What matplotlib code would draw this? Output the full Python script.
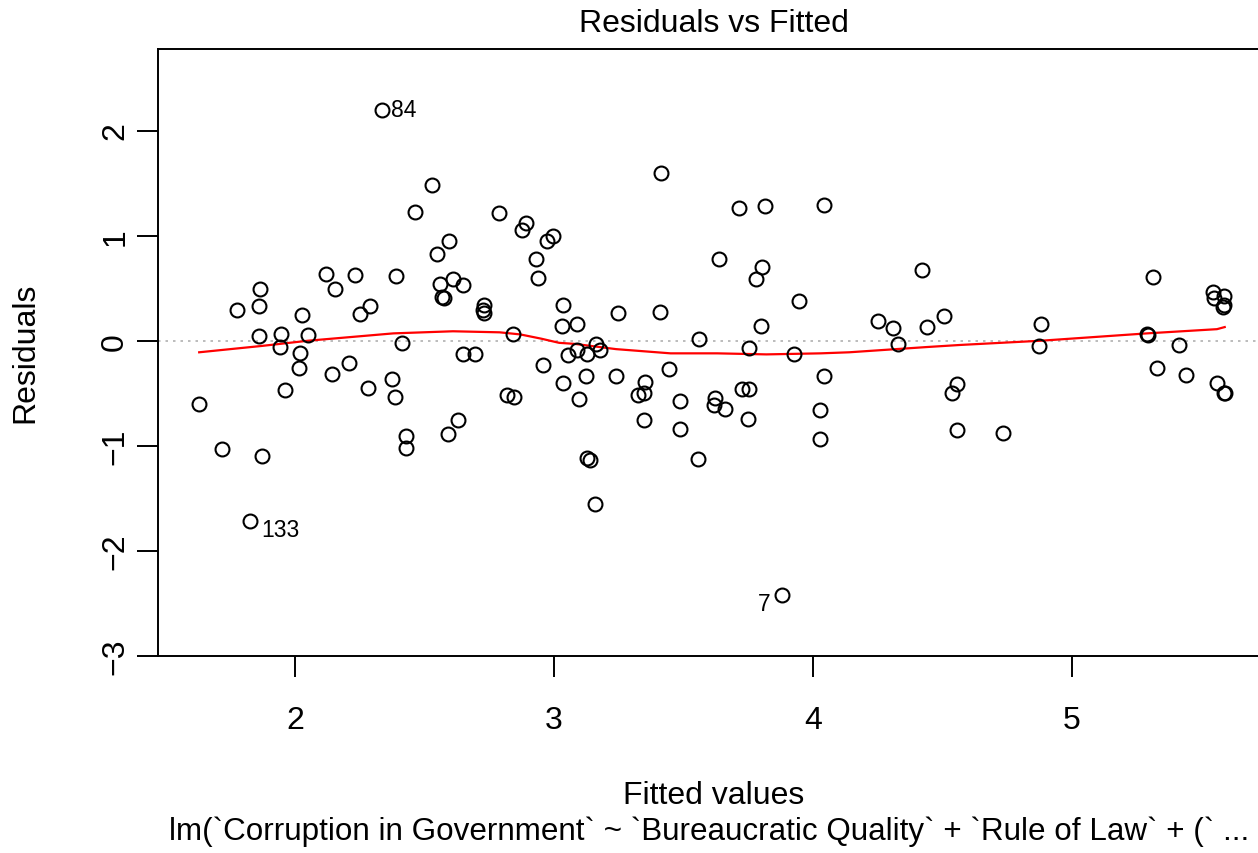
import numpy as np
import matplotlib
matplotlib.use('Agg')
import matplotlib.pyplot as plt

plt.rcParams['font.family'] = ['Liberation Sans', 'DejaVu Sans']

# fitted values / residuals
fitted = [2.335, 2.528, 2.463, 2.789, 2.891, 2.878, 2.997, 2.974, 2.596, 2.547,
          2.929, 2.940, 2.118, 2.233, 2.390, 2.156, 1.866, 2.560, 2.609, 2.650,
          2.566, 2.575, 1.776, 1.862, 2.028, 2.251, 2.290, 2.731, 2.725, 2.731,
          3.033, 3.030, 1.862, 1.947, 2.051, 1.942, 2.414, 2.840, 2.019, 1.631,
          1.718, 1.873, 1.827, 2.017, 1.961, 2.144, 2.208, 2.282, 2.376, 2.386,
          2.650, 2.695, 2.956, 2.817, 2.846, 2.631, 2.592, 2.427, 2.430, 3.034,
          3.412, 3.714, 3.815, 4.042, 3.636, 3.803, 3.779, 4.421, 3.946, 3.090,
          3.246, 3.408, 3.799, 4.252, 4.310, 4.440, 4.506, 3.559, 4.328, 3.161,
          3.178, 3.755, 3.927, 3.055, 3.090, 3.126, 3.122, 3.095, 3.238, 3.351,
          3.323, 3.347, 3.346, 3.444, 3.485, 3.485, 3.555, 3.622, 3.619, 3.660,
          3.725, 3.753, 3.748, 4.042, 4.027, 4.027, 3.126, 3.141, 3.157, 3.880,
          4.538, 4.556, 4.556, 4.880, 4.873, 5.314, 5.289, 5.292, 5.414, 5.546,
          5.548, 5.588, 5.587, 5.584, 4.735, 5.330, 5.441, 5.559, 5.588, 5.590]
resid = [2.196, 1.480, 1.229, 1.214, 1.119, 1.049, 1.001, 0.953, 0.953, 0.827,
         0.773, 0.595, 0.637, 0.627, 0.612, 0.497, 0.488, 0.542, 0.583, 0.526,
         0.415, 0.405, 0.295, 0.330, 0.247, 0.257, 0.326, 0.336, 0.288, 0.266,
         0.336, 0.138, 0.045, 0.067, 0.057, -0.060, -0.025, 0.067, -0.118, -0.599,
         -1.033, -1.093, -1.714, -0.257, -0.472, -0.320, -0.209, -0.447, -0.368, -0.532,
         -0.124, -0.124, -0.234, -0.520, -0.539, -0.757, -0.884, -0.906, -1.017, -0.402,
         1.594, 1.267, 1.280, 1.290, 0.773, 0.697, 0.592, 0.672, 0.374, 0.155,
         0.260, 0.269, 0.140, 0.183, 0.117, 0.127, 0.235, 0.012, -0.029, -0.029,
         -0.092, -0.070, -0.130, -0.139, -0.092, -0.124, -0.339, -0.558, -0.339, -0.393,
         -0.520, -0.497, -0.757, -0.273, -0.577, -0.843, -1.128, -0.542, -0.615, -0.653,
         -0.463, -0.463, -0.748, -0.339, -0.662, -0.932, -1.115, -1.138, -1.549, -2.418,
         -0.500, -0.412, -0.852, 0.155, -0.051, 0.605, 0.067, 0.050, -0.038, 0.463,
         0.406, 0.425, 0.336, 0.317, -0.875, -0.257, -0.330, -0.402, -0.494, -0.500]

# smoother (red line)
smooth_x = [1.63, 1.87, 2.05, 2.38, 2.61, 2.79, 2.87, 2.95, 3.02, 3.08, 3.24, 3.45,
            3.63, 3.82, 4.03, 4.14, 4.26, 4.44, 4.57, 4.88, 5.29, 5.56, 5.59]
smooth_y = [-0.11, -0.05, 0.00, 0.07, 0.09, 0.08, 0.06, 0.02, -0.02, -0.03, -0.08, -0.12,
            -0.12, -0.13, -0.12, -0.11, -0.09, -0.06, -0.04, 0.00, 0.07, 0.11, 0.13]

# labelled observations: (id, fitted, residual)
ids = ['84', '133', '7']
id_x = [2.335, 1.827, 3.880]
id_y = [2.196, -1.714, -2.418]

W, H = 1258, 854
fig = plt.figure(figsize=(W / 100, H / 100), dpi=100)
ax = fig.add_axes([158 / W, 197 / H, 1111 / W, 607 / H])

ax.axhline(0, color='#b0b0b0', lw=1.2, ls=(0, (1.5, 3)), zorder=1)
ax.plot(fitted, resid, 'o', ms=10, mfc='none', mec='black', mew=1.5, zorder=3)
ax.plot(smooth_x, smooth_y, color='red', lw=1.6, zorder=2)

ax.annotate(ids[0], (id_x[0], id_y[0]), xytext=(7, 0), textcoords='offset points',
            ha='left', va='center', fontsize=16.5)
ax.annotate(ids[1], (id_x[1], id_y[1]), xytext=(8, -6.5), textcoords='offset points',
            ha='left', va='center', fontsize=16.5)
ax.annotate(ids[2], (id_x[2], id_y[2]), xytext=(-8, -6.5), textcoords='offset points',
            ha='right', va='center', fontsize=16.5)

ax.set_xlim(1.471, 5.761)
ax.set_ylim(-3.0, 2.776)
ax.set_xticks([2, 3, 4, 5])
ax.set_yticks([-3, -2, -1, 0, 1, 2])
ax.tick_params(length=15, width=1.4, labelsize=23, pad=20)
ax.tick_params(axis='y', pad=5)
for lab in ax.get_yticklabels():
    lab.set_rotation(90)
    lab.set_va('center')
for s in ax.spines.values():
    s.set_linewidth(1.4)

fig.text(713.5 / W, 1 - 24 / H, 'Residuals vs Fitted', ha='center', va='center', fontsize=23)
fig.text(713.5 / W, 1 - 796 / H, 'Fitted values', ha='center', va='center', fontsize=23)
fig.text(709 / W, 1 - 832 / H,
         'lm(`Corruption in Government` ~ `Bureaucratic Quality` + `Rule of Law` + (` ...',
         ha='center', va='center', fontsize=22.6)
fig.text(25 / W, 1 - 353 / H, 'Residuals', ha='center', va='center', rotation=90, fontsize=23)

fig.savefig('out.png', dpi=100)
